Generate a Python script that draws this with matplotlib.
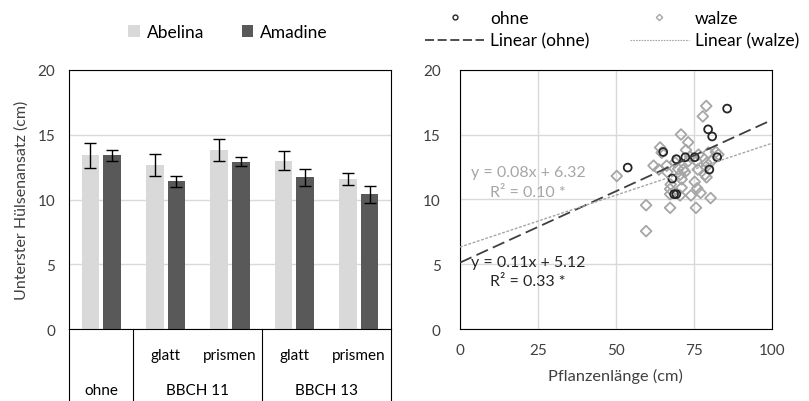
import numpy as np
import matplotlib
matplotlib.use("Agg")
import matplotlib.pyplot as plt
from matplotlib.lines import Line2D

plt.rcParams['font.family'] = ['Lato', 'DejaVu Sans']
######################################
# bar chart data
categories   = ["ohne", "glatt", "prismen", "glatt", "prismen"]
group_names  = ["ohne", "BBCH 11", "BBCH 13"]
group_of_cat = [0, 1, 1, 2, 2]
abelina      = [13.4, 12.7, 13.8, 13.0, 11.6]
abelina_err  = [0.93, 0.85, 0.85, 0.75, 0.45]
amadine      = [13.4, 11.4, 12.9, 11.7, 10.4]
amadine_err  = [0.45, 0.45, 0.35, 0.65, 0.65]

# scatter data (Pflanzenlaenge, Huelsenansatz)
ohne_x  = [53.8, 65.2, 69.4, 68.1, 68.7, 69.4, 72.3, 75.3, 79.6, 80.9, 80.0, 82.5, 85.7]
ohne_y  = [12.45, 13.65, 13.1, 11.6, 10.4, 10.4, 13.25, 13.25, 15.4, 14.85, 12.3, 13.25, 17.0]
walze_x = [50.3, 59.7, 59.7, 64.2, 64.7, 62.1, 63.8, 66.3, 66.5, 67.4, 67.6, 67.4, 67.4,
           69.0, 70.0, 70.6, 70.6, 70.9, 71.1, 71.1, 71.6, 72.2, 72.5, 73.2, 73.2, 73.8,
           74.1, 75.3, 75.7, 75.9, 76.1, 76.3, 76.5, 77.2, 77.9, 78.6, 78.9, 79.0, 79.1,
           79.1, 79.7, 80.4, 80.7, 82.1, 82.9]
walze_y = [11.8, 9.55, 7.55, 14.0, 13.6, 12.6, 12.3, 12.6, 12.1, 10.4, 11.15, 9.35, 10.8,
           12.85, 12.35, 11.9, 10.3, 15.0, 10.9, 11.55, 12.3, 12.1, 13.8, 14.4, 12.95, 13.3,
           10.3, 11.35, 9.35, 12.95, 10.85, 12.3, 13.45, 10.5, 16.4, 11.9, 12.5, 17.2, 11.7,
           12.8, 13.6, 10.1, 12.95, 13.65, 13.45]
fit_ohne  = [0.11, 5.12]
fit_walze = [0.08, 6.32]
r2_ohne   = 0.33
r2_walze  = 0.10
######################################
light = '#d9d9d9'
dark  = '#595959'
gridc = '#d9d9d9'
txtc  = '#404040'
fs    = 11
lfs   = 12.5

fig = plt.figure(figsize=(8.09, 4.02), dpi=100)

# ---------------- bar chart ----------------
ax1 = fig.add_axes([69/809, 1-330/402, (391-69)/809, (330-71)/402])
x = np.arange(len(categories))
w = 0.275
ax1.bar(x-0.168, abelina, w, color=light, label='Abelina', zorder=2)
ax1.bar(x+0.168, amadine, w, color=dark, label='Amadine', zorder=2)
ax1.errorbar(x-0.168, abelina, yerr=abelina_err, fmt='none', ecolor='black', elinewidth=1, capsize=4.6, capthick=1, zorder=3)
ax1.errorbar(x+0.168, amadine, yerr=amadine_err, fmt='none', ecolor='black', elinewidth=1, capsize=4.6, capthick=1, zorder=3)
ax1.set_xlim(-0.5, 4.5)
ax1.set_ylim(0, 20)
ax1.set_yticks([0, 5, 10, 15, 20])
ax1.set_xticks([])
ax1.yaxis.grid(True, color=gridc, linewidth=1, zorder=0)
ax1.tick_params(axis='y', length=0, labelsize=fs, labelcolor=txtc, pad=10)
for s in ax1.spines.values():
    s.set_color('black')
    s.set_linewidth(0.8)
ax1.set_ylabel('Unterster Hülsenansatz (cm)', fontsize=11.5, color=txtc, labelpad=6)

# category table below the axis
trans = ax1.get_xaxis_transform()
for i, c in enumerate(categories):
    if c != "ohne":
        ax1.text(i, -0.10, c, transform=trans, ha='center', va='center', fontsize=fs, color='black')
for g, name in enumerate(group_names):
    idx = [i for i in range(len(categories)) if group_of_cat[i] == g]
    ax1.text(np.mean(idx), -0.235, name, transform=trans, ha='center', va='center', fontsize=fs, color='black')
bounds = [-0.5] + [i+0.5 for i in range(len(categories)-1) if group_of_cat[i] != group_of_cat[i+1]] + [4.5]
for b in bounds:
    ax1.plot([b, b], [0, -0.28], transform=trans, color='black', linewidth=0.8, clip_on=False)

ax1.legend(loc='lower center', bbox_to_anchor=(0.494, 1.055), ncol=2, frameon=False, fontsize=lfs,
           handlelength=0.65, handleheight=0.65, handletextpad=0.4, columnspacing=2.2)

# ---------------- scatter chart ----------------
ax2 = fig.add_axes([460/809, 1-330/402, (771.7-460)/809, (330-70.7)/402])
ax2.scatter(ohne_x, ohne_y, s=32, facecolors='none', edgecolors='#262626', linewidths=1.3, marker='o', zorder=4, label='ohne')
ax2.scatter(walze_x, walze_y, s=30, facecolors='none', edgecolors='#a6a6a6', linewidths=1.3, marker='D', zorder=3, label='walze')
xx = np.array([0, 100])
ax2.plot(xx, fit_ohne[0]*xx + fit_ohne[1], color='#404040', linestyle=(0, (7, 3)), linewidth=1.3, zorder=5, label='Linear (ohne)')
ax2.plot(xx, fit_walze[0]*xx + fit_walze[1], color='#a6a6a6', linestyle=(0, (2, 1.2)), linewidth=1.0, zorder=5, label='Linear (walze)')
ax2.set_xlim(0, 100)
ax2.set_ylim(0, 20)
ax2.set_xticks([0, 25, 50, 75, 100])
ax2.set_yticks([0, 5, 10, 15, 20])
ax2.grid(True, color=gridc, linewidth=1, zorder=0)
ax2.set_axisbelow(True)
ax2.tick_params(length=0, labelsize=fs, labelcolor=txtc)
ax2.tick_params(axis='y', pad=14)
ax2.tick_params(axis='x', pad=10)
for s in ax2.spines.values():
    s.set_color('black')
    s.set_linewidth(0.8)
ax2.set_xlabel('Pflanzenlänge (cm)', fontsize=11.8, color=txtc, labelpad=8)

afs = 11.5
ax2.text(21.8, 12.1, 'y = %.2fx + %.2f' % (fit_walze[0], fit_walze[1]), ha='center', va='center', fontsize=afs, color='#a6a6a6')
ax2.text(21.8, 10.6, 'R² = %.2f *' % r2_walze, ha='center', va='center', fontsize=afs, color='#a6a6a6')
ax2.text(21.8, 5.15, 'y = %.2fx + %.2f' % (fit_ohne[0], fit_ohne[1]), ha='center', va='center', fontsize=afs, color='#262626')
ax2.text(21.8, 3.7, 'R² = %.2f *' % r2_ohne, ha='center', va='center', fontsize=afs, color='#262626')

h = [Line2D([], [], marker='o', linestyle='none', markerfacecolor='none', markeredgecolor='#262626', markersize=3.5, markeredgewidth=1),
     Line2D([], [], color='#404040', linestyle=(0, (5, 2)), linewidth=1.3),
     Line2D([], [], marker='D', linestyle='none', markerfacecolor='none', markeredgecolor='#a6a6a6', markersize=3.2, markeredgewidth=1),
     Line2D([], [], color='#a6a6a6', linestyle=(0, (1.5, 1)), linewidth=0.8)]
lab = ['ohne', 'Linear (ohne)', 'walze', 'Linear (walze)']
ax2.legend(h, lab, loc='lower center', bbox_to_anchor=(0.488, 1.02), ncol=2, frameon=False, fontsize=lfs,
           handlelength=3.4, handletextpad=0.35, columnspacing=2.3, labelspacing=0.4)

fig.savefig('out.png', dpi=100)
